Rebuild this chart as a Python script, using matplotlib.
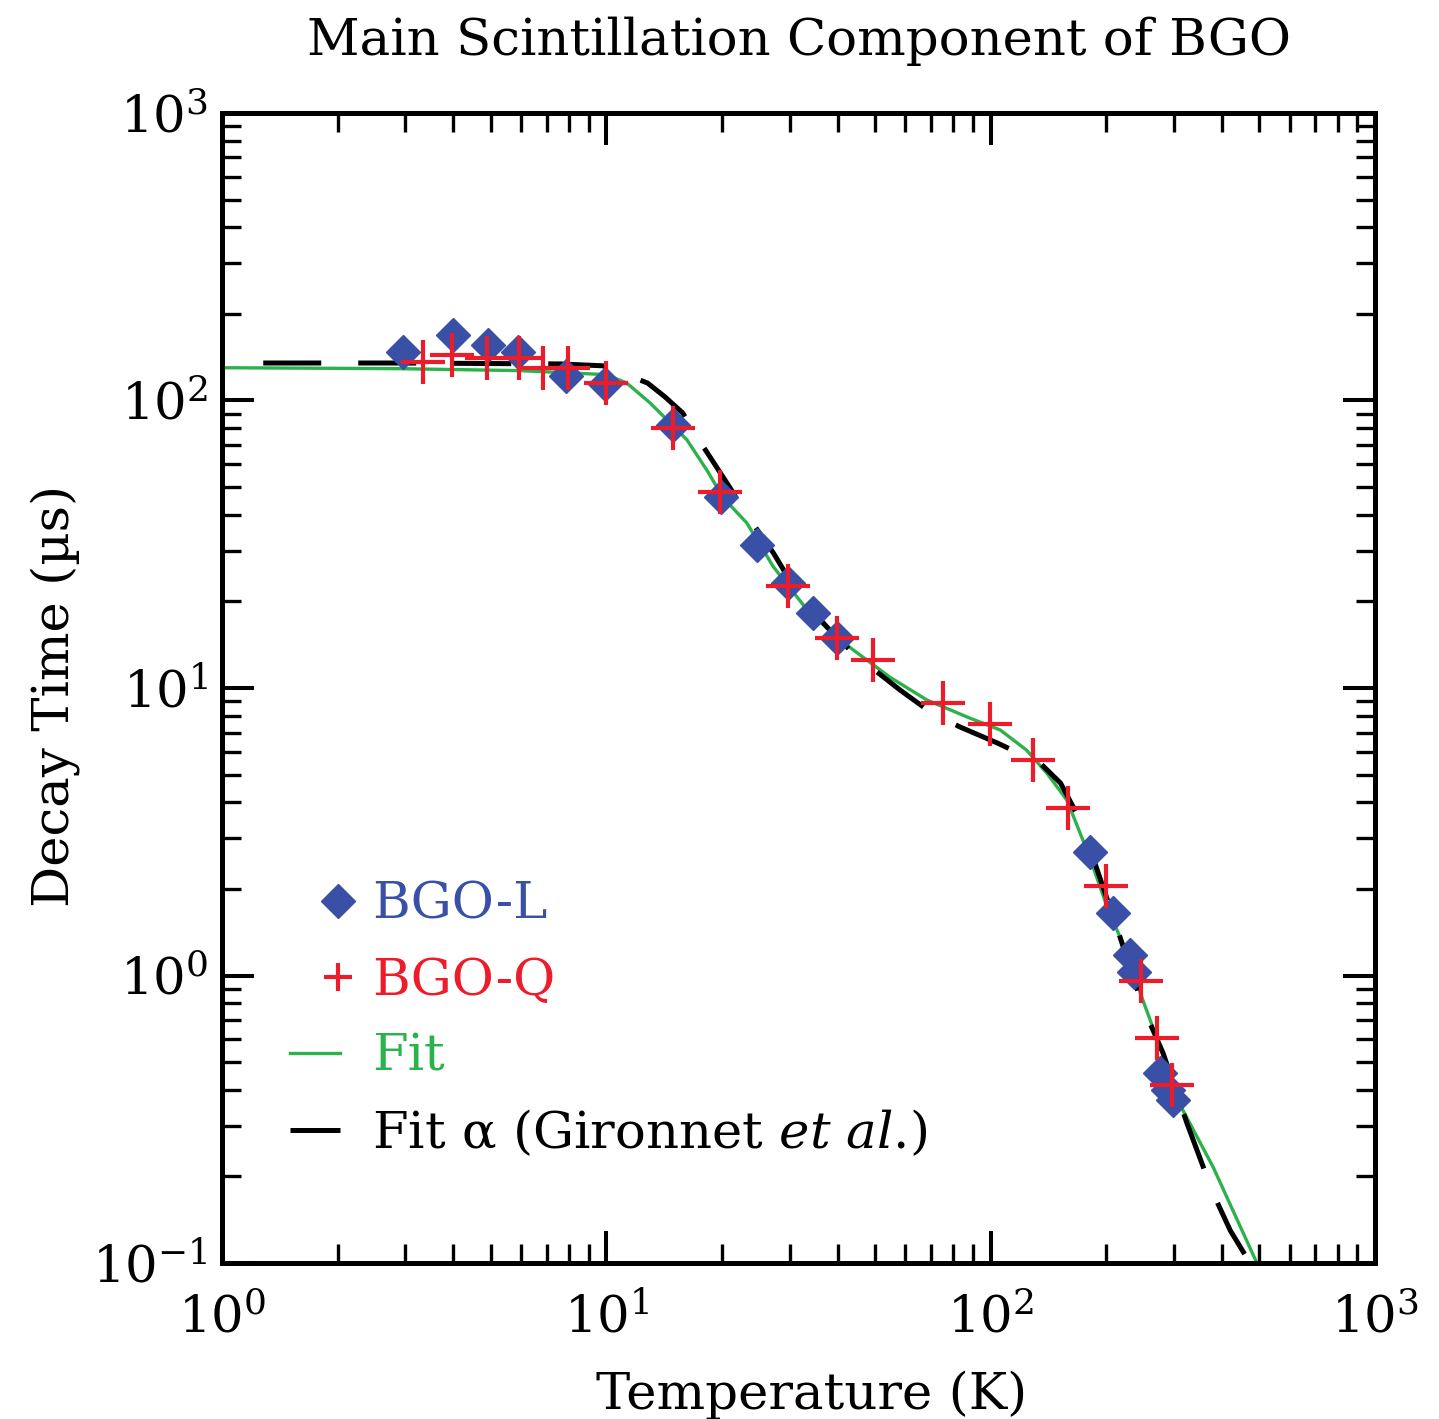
import numpy as np
import matplotlib.pyplot as plt
from matplotlib import rcParams
from matplotlib.legend_handler import HandlerLine2D

rcParams['font.family'] = 'DejaVu Serif'
rcParams['mathtext.fontset'] = 'dejavuserif'
rcParams['axes.unicode_minus'] = False

# measured decay times, sample L
temp_L = [2.96, 3.99, 4.92, 5.89, 7.85, 9.93, 14.9, 19.9, 24.7, 29.7, 34.5, 39.8,
          181, 208, 231, 236, 276, 290, 298]
tau_L = [147, 169, 156, 147, 122, 114, 82, 46, 31.4, 23.2, 18.2, 14.9,
         2.69, 1.65, 1.18, 1.03, 0.458, 0.40, 0.369]

# measured decay times, sample Q
temp_Q = [3.33, 3.97, 4.89, 5.93, 6.84, 7.95, 9.98, 14.9, 19.8, 29.7, 39.8, 49.4,
          75.2, 99.6, 129, 159, 200, 246, 271, 297]
tau_Q = [136, 144, 141, 141, 130, 130, 115, 80, 48, 22.6, 14.9, 12.5,
         8.87, 7.5, 5.62, 3.83, 2.05, 0.957, 0.607, 0.416]

# model fit
fit_T = [1.0, 2.90, 5.96, 10.0, 11.3, 13.0, 14.6, 16.2, 18.3, 20.1, 23.2, 27.2,
         33.3, 40.5, 54.7, 68.3, 86.8, 106, 124, 140, 158, 181, 201, 226, 249,
         276, 311, 379, 493]
fit_tau = [130, 129, 127, 123, 115, 98, 84, 73, 57, 46, 37.5, 26.4,
           18.7, 14.7, 10.9, 9.08, 7.93, 7.14, 6.08, 5.06, 4.07, 2.58, 1.73, 1.20, 0.82,
           0.564, 0.355, 0.216, 0.1]

# alpha-excitation fit from Gironnet et al.
gir_T = [1.28, 2.90, 7.58, 9.8, 12.8, 14.2, 15.8, 17.9, 20.6, 23.7, 27.2, 31.9,
         37.5, 43.9, 58.1, 69.6, 83.2, 104, 134.5, 152, 171, 213, 249, 281, 324,
         379, 420, 473]
gir_tau = [135, 135, 134, 132, 115, 103, 90.5, 68.9, 51.6, 38.4, 29.5, 20.7,
           16.3, 13.2, 9.84, 8.26, 7.32, 6.44, 5.48, 4.67, 3.47, 1.47, 0.777, 0.537,
           0.307, 0.175, 0.130, 0.1]

blue = '#3a4fa6'
red = '#ec1c2a'
green = '#2bb24c'


class RightMarker(HandlerLine2D):
    # legend marker sits at the right end of the handle, with its own size
    def __init__(self, size, **kw):
        super().__init__(**kw)
        self.size = size

    def get_xdata(self, legend, xdescent, ydescent, width, height, fontsize):
        xm = -xdescent + 0.96 * width
        return [xm, xm], [xm]

    def create_artists(self, *args, **kwargs):
        artists = super().create_artists(*args, **kwargs)
        for a in artists:
            a.set_markersize(self.size)
        return artists


fig = plt.figure(figsize=(14.39, 14.19), dpi=100)
ax = fig.add_axes([0.1543, 0.1099, 0.8012, 0.8105])

ax.plot(fit_T, fit_tau, color=green, lw=2.4, label='Fit', zorder=2)
ax.plot(gir_T, gir_tau, color='black', lw=3.6, dashes=(11.6, 7.4),
        label=r'Fit $\mathregular{\alpha}$ (Gironnet $\mathit{et\ al}$.)', zorder=3)
ln_L, = ax.plot(temp_L, tau_L, ls='none', marker='D', ms=17.5, color=blue, mec=blue,
                label='BGO-L', zorder=4)
ln_Q, = ax.plot(temp_Q, tau_Q, ls='none', marker='+', ms=32, mew=3, color=red,
                label='BGO-Q', zorder=5)

ax.set_xscale('log')
ax.set_yscale('log')
ax.set_xlim(1, 1000)
ax.set_ylim(0.1, 1000)

for sp in ax.spines.values():
    sp.set_linewidth(3.6)
ax.tick_params(which='both', direction='in', top=True, right=True)
ax.tick_params(which='major', length=23, width=2.9, labelsize=37)
ax.tick_params(which='minor', length=14, width=2.4)
ax.tick_params(axis='x', which='major', pad=22)
ax.tick_params(axis='y', which='major', pad=10)

ax.set_title('Main Scintillation Component of BGO', fontsize=37, pad=42)
ax.set_xlabel('Temperature (K)', fontsize=37, labelpad=20)
ax.set_ylabel('Decay Time (µs)', fontsize=37, labelpad=9)
ax.xaxis.label.set_x(0.511)
ax.yaxis.label.set_y(0.493)

h, l = ax.get_legend_handles_labels()
order = [2, 3, 0, 1]
ax.legend([h[i] for i in order], [l[i] for i in order], loc='upper left',
          bbox_to_anchor=(0.059, 0.333), frameon=False, fontsize=37,
          handlelength=0.97, handletextpad=0.62, labelspacing=0.52,
          borderpad=0, borderaxespad=0, numpoints=1,
          labelcolor='linecolor',
          handler_map={ln_L: RightMarker(17), ln_Q: RightMarker(20)})

fig.savefig('out.png', dpi=100)
